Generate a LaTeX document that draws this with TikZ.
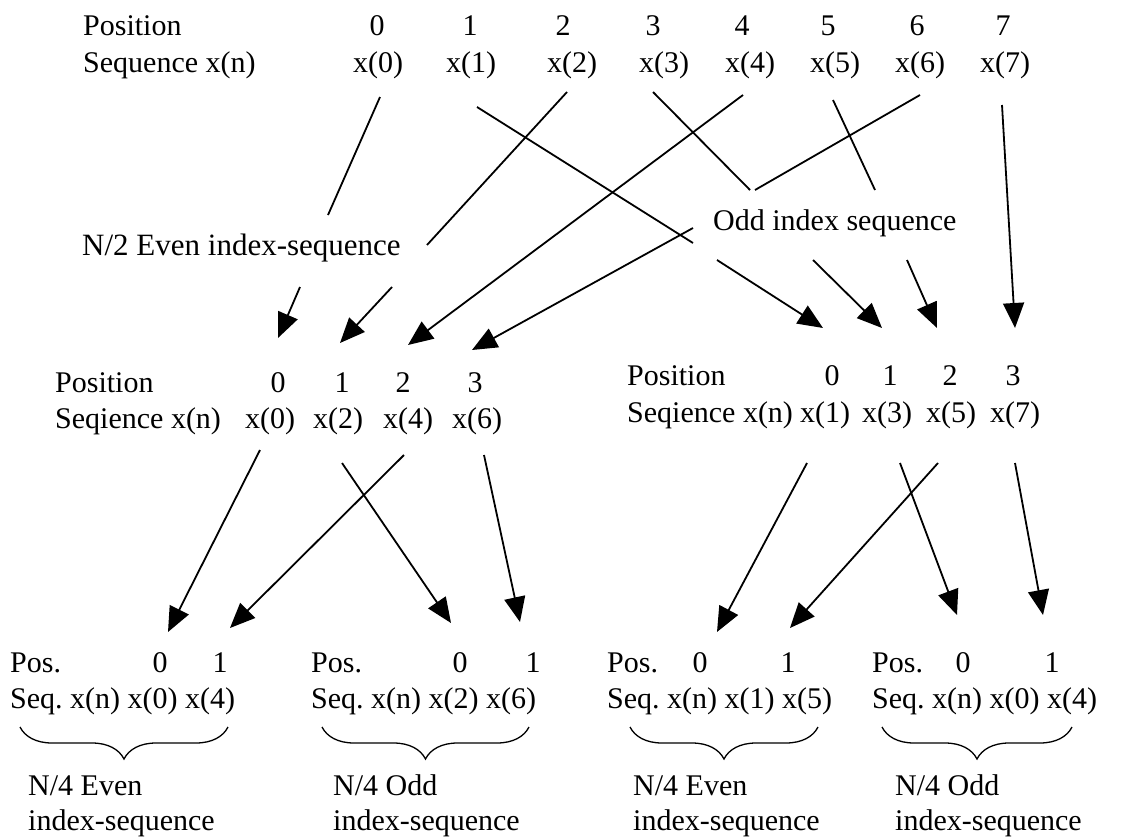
\documentclass[tikz,border=0pt]{standalone}
\usepackage{fontspec}
\setmainfont{Liberation Serif}
\usetikzlibrary{arrows.meta,decorations.pathreplacing}
\begin{document}
\begin{tikzpicture}[x=1pt,y=-1pt,
  font=\fontsize{30}{36}\selectfont,
  lbl/.style={anchor=base west, inner sep=0pt},
  itm/.style={anchor=base, inner sep=0pt},
  ln/.style={line width=1.8pt},
  arr/.style={line width=1.8pt, -{Triangle[length=25pt,width=21pt]}},
  brc/.style={decorate, decoration={brace, amplitude=32pt}, line width=1.3pt}]
\fill[white] (0,0) rectangle (1140,838);
\useasboundingbox (0,0) rectangle (1140,838);

% ---------- top row ----------
\node[lbl] (posT) at (83,35) {Position};
\node[lbl] (seqT) at (83,72) {Sequence x(n)};
\foreach \i/\x in {0/377,1/470,2/563,3/653,4/742,5/828,6/917,7/1003}
  \node[itm] (p\i) at (\x,35) {\i};
\foreach \i/\x in {0/378,1/471,2/572,3/664,4/750,5/835,6/920,7/1005}
  \node[itm] (t\i) at (\x,72) {x(\i)};

\node[lbl, font=\fontsize{31}{36}\selectfont] (evenlab) at (82,255) {N/2 Even index-sequence};
\node[lbl] (oddlab) at (713,230) {Odd index sequence};

% ---------- middle left ----------
\node[lbl] (posL) at (55,392) {Position};
\node[lbl] (seqL) at (55,428) {Seqience x(n)};
\foreach \i/\x in {0/278,1/342,2/403,3/475}
  \node[itm] (dL\i) at (\x,392) {\i};
\foreach \i/\x/\v in {0/270/0,1/338/2,2/408/4,3/477/6}
  \node[itm] (mL\i) at (\x,428) {x(\v)};

% ---------- middle right ----------
\node[lbl] (posR) at (627,385) {Position};
\node[lbl] (seqR) at (627,422) {Seqience x(n)};
\foreach \i/\x in {0/832,1/890,2/950,3/1013}
  \node[itm] (dR\i) at (\x,385) {\i};
\foreach \i/\x/\v in {0/825/1,1/887/3,2/951/5,3/1015/7}
  \node[itm] (mR\i) at (\x,422) {x(\v)};

% ---------- bottom groups ----------
\foreach \g/\x/\a/\b/\u/\w in {A/10/160/220/0/4,B/311/460/533/2/6,C/607/700/788/1/5,D/872/963/1052/0/4}{
  \node[lbl] (pos\g) at (\x,672) {Pos.};
  \node[itm] (b\g0) at (\a,672) {0};
  \node[itm] (b\g1) at (\b,672) {1};
  \node[lbl] (seq\g) at (\x,708) {Seq.\ x(n) x(\u) x(\w)};
}
\node[lbl] (nA) at (28,795) {N/4 Even};
\node[lbl] (iA) at (28,830) {index-sequence};
\node[lbl] (nB) at (333,795) {N/4 Odd};
\node[lbl] (iB) at (333,830) {index-sequence};
\node[lbl] (nC) at (633,795) {N/4 Even};
\node[lbl] (iC) at (633,830) {index-sequence};
\node[lbl] (nD) at (895,795) {N/4 Odd};
\node[lbl] (iD) at (895,830) {index-sequence};

% braces
\draw[brc] (228,727) -- (20,727);
\draw[brc] (529,727) -- (322,727);
\draw[brc] (818,727) -- (630,727);
\draw[brc] (1072,727) -- (882,727);

% ---------- connector points: top -> middle ----------
\coordinate (a0s) at (380,97);  \coordinate (a0e) at (328,215);
\coordinate (a0r) at (300,287); \coordinate (a0t) at (278,338);
\coordinate (a2s) at (567,92);  \coordinate (a2e) at (427,245);
\coordinate (a2r) at (392,287); \coordinate (a2t) at (340,343);
\coordinate (a4s) at (743,95);  \coordinate (a4t) at (408,345);
\coordinate (a6s) at (920,95);  \coordinate (a6e) at (755,190);
\coordinate (a6r) at (693,228); \coordinate (a6t) at (472,350);
\coordinate (a1s) at (477,107); \coordinate (a1e) at (693,243);
\coordinate (a1r) at (717,260); \coordinate (a1t) at (823,328);
\coordinate (a3s) at (653,92);  \coordinate (a3e) at (750,190);
\coordinate (a3r) at (813,260); \coordinate (a3t) at (882,328);
\coordinate (a5s) at (833,100); \coordinate (a5e) at (875,190);
\coordinate (a5r) at (907,260); \coordinate (a5t) at (937,328);
\coordinate (a7s) at (1002,105);\coordinate (a7t) at (1015,328);

\draw[ln] (a0s) -- (a0e);  \draw[arr] (a0r) -- (a0t);
\draw[ln] (a2s) -- (a2e);  \draw[arr] (a2r) -- (a2t);
\draw[arr] (a4s) -- (a4t);
\draw[ln] (a6s) -- (a6e);  \draw[arr] (a6r) -- (a6t);
\draw[ln] (a1s) -- (a1e);  \draw[arr] (a1r) -- (a1t);
\draw[ln] (a3s) -- (a3e);  \draw[arr] (a3r) -- (a3t);
\draw[ln] (a5s) -- (a5e);  \draw[arr] (a5r) -- (a5t);
\draw[arr] (a7s) -- (a7t);

% ---------- connector points: middle -> bottom ----------
\coordinate (l0s) at (260,450); \coordinate (l0t) at (168,632);
\coordinate (l4s) at (404,455); \coordinate (l4t) at (230,628);
\coordinate (l2s) at (342,463); \coordinate (l2t) at (451,623);
\coordinate (l6s) at (484,455); \coordinate (l6t) at (520,622);
\coordinate (r1s) at (807,463); \coordinate (r1t) at (717,632);
\coordinate (r5s) at (938,463); \coordinate (r5t) at (790,628);
\coordinate (r3s) at (900,463); \coordinate (r3t) at (957,615);
\coordinate (r7s) at (1015,463);\coordinate (r7t) at (1043,615);

\draw[arr] (l0s) -- (l0t);
\draw[arr] (l4s) -- (l4t);
\draw[arr] (l2s) -- (l2t);
\draw[arr] (l6s) -- (l6t);
\draw[arr] (r1s) -- (r1t);
\draw[arr] (r5s) -- (r5t);
\draw[arr] (r3s) -- (r3t);
\draw[arr] (r7s) -- (r7t);
\end{tikzpicture}
\end{document}
